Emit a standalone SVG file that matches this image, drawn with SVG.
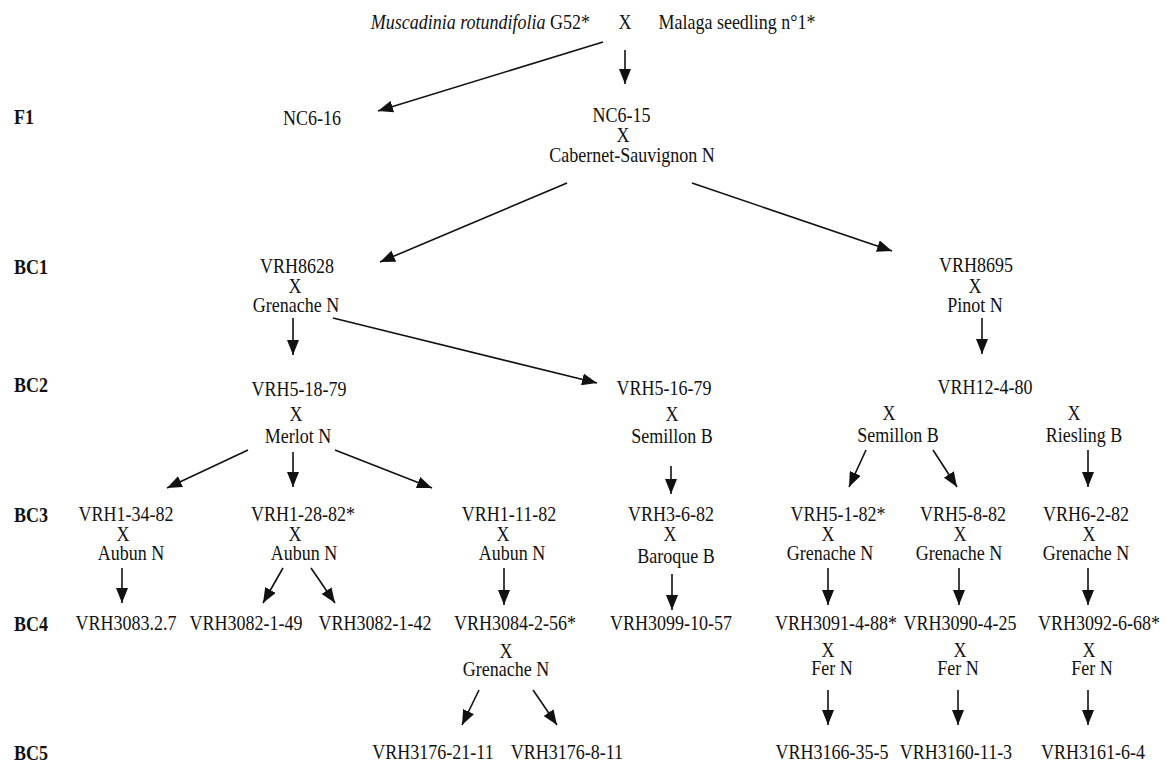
<svg xmlns="http://www.w3.org/2000/svg" width="1166" height="762" viewBox="0 0 1166 762">
<style>
  text { font-family: "Liberation Serif", "Times New Roman", serif; font-size: 20px; fill: #111; text-anchor: middle; transform: scaleX(0.9); transform-box: fill-box; transform-origin: center; }
  text.lbl { font-weight: bold; text-anchor: start; transform-origin: left center; }
  .it { font-style: italic; }
  .conn line { stroke: #111; stroke-width: 1.6; fill: none; marker-end: url(#ah); }
</style>
<defs>
  <marker id="ah" viewBox="0 0 15 12" refX="15" refY="6" markerWidth="15" markerHeight="12" markerUnits="userSpaceOnUse" orient="auto">
    <path d="M0,0 L15,6 L0,12 z" fill="#111"/>
  </marker>
</defs>
<rect width="1166" height="762" fill="#fff"/>

<g id="labels">
  <text class="lbl" x="14" y="124">F1</text>
  <text class="lbl" x="14" y="274">BC1</text>
  <text class="lbl" x="14" y="392">BC2</text>
  <text class="lbl" x="14" y="522">BC3</text>
  <text class="lbl" x="14" y="631">BC4</text>
  <text class="lbl" x="14" y="760">BC5</text>
</g>

<g id="parents">
  <text x="480.5" y="29"><tspan class="it">Muscadinia rotundifolia</tspan> G52*</text>
  <text x="625" y="29">X</text>
  <text x="737" y="29">Malaga seedling n°1*</text>
</g>

<g id="NC6-16"><text x="312" y="125">NC6-16</text></g>
<g id="NC6-15">
  <text x="621.5" y="122">NC6-15</text>
  <text x="623" y="142">X</text>
  <text x="632" y="162">Cabernet-Sauvignon N</text>
</g>

<g id="VRH8628">
  <text x="297" y="273">VRH8628</text>
  <text x="295" y="293">X</text>
  <text x="296" y="312">Grenache N</text>
</g>
<g id="VRH8695">
  <text x="976" y="272">VRH8695</text>
  <text x="975" y="293">X</text>
  <text x="975" y="312">Pinot N</text>
</g>

<g id="VRH5-18-79">
  <text x="299" y="396">VRH5-18-79</text>
  <text x="296" y="421">X</text>
  <text x="298" y="443">Merlot N</text>
</g>
<g id="VRH5-16-79">
  <text x="664" y="395">VRH5-16-79</text>
  <text x="672" y="421">X</text>
  <text x="672" y="443">Semillon B</text>
</g>
<g id="VRH12-4-80">
  <text x="985" y="394">VRH12-4-80</text>
  <text x="889" y="420">X</text>
  <text x="898" y="442">Semillon B</text>
  <text x="1074" y="420">X</text>
  <text x="1084" y="442">Riesling B</text>
</g>

<g id="VRH1-34-82">
  <text x="126" y="521">VRH1-34-82</text>
  <text x="123" y="541">X</text>
  <text x="131" y="560">Aubun N</text>
</g>
<g id="VRH1-28-82">
  <text x="303" y="521">VRH1-28-82*</text>
  <text x="295" y="541">X</text>
  <text x="304" y="560">Aubun N</text>
</g>
<g id="VRH1-11-82">
  <text x="509" y="521">VRH1-11-82</text>
  <text x="503" y="541">X</text>
  <text x="512" y="560">Aubun N</text>
</g>
<g id="VRH3-6-82">
  <text x="671" y="521">VRH3-6-82</text>
  <text x="670" y="541">X</text>
  <text x="676" y="563">Baroque B</text>
</g>
<g id="VRH5-1-82">
  <text x="838" y="521">VRH5-1-82*</text>
  <text x="828" y="541">X</text>
  <text x="830" y="560">Grenache N</text>
</g>
<g id="VRH5-8-82">
  <text x="963" y="521">VRH5-8-82</text>
  <text x="960" y="541">X</text>
  <text x="959" y="560">Grenache N</text>
</g>
<g id="VRH6-2-82">
  <text x="1086" y="521">VRH6-2-82</text>
  <text x="1089" y="541">X</text>
  <text x="1086" y="560">Grenache N</text>
</g>

<g id="VRH3083.2.7"><text x="126" y="630">VRH3083.2.7</text></g>
<g id="VRH3082-1-49"><text x="246" y="630">VRH3082-1-49</text></g>
<g id="VRH3082-1-42"><text x="375" y="630">VRH3082-1-42</text></g>
<g id="VRH3084-2-56">
  <text x="515" y="630">VRH3084-2-56*</text>
  <text x="506" y="658">X</text>
  <text x="506" y="676">Grenache N</text>
</g>
<g id="VRH3099-10-57"><text x="671" y="630">VRH3099-10-57</text></g>
<g id="VRH3091-4-88">
  <text x="836" y="630">VRH3091-4-88*</text>
  <text x="828" y="657">X</text>
  <text x="832" y="675">Fer N</text>
</g>
<g id="VRH3090-4-25">
  <text x="960" y="630">VRH3090-4-25</text>
  <text x="960" y="657">X</text>
  <text x="958" y="675">Fer N</text>
</g>
<g id="VRH3092-6-68">
  <text x="1099" y="630">VRH3092-6-68*</text>
  <text x="1089" y="657">X</text>
  <text x="1092" y="675">Fer N</text>
</g>

<g id="VRH3176-21-11"><text x="433" y="759">VRH3176-21-11</text></g>
<g id="VRH3176-8-11"><text x="567" y="759">VRH3176-8-11</text></g>
<g id="VRH3166-35-5"><text x="832" y="759">VRH3166-35-5</text></g>
<g id="VRH3160-11-3"><text x="956" y="759">VRH3160-11-3</text></g>
<g id="VRH3161-6-4"><text x="1093" y="759">VRH3161-6-4</text></g>

<g id="connectors" class="conn">
  <line x1="603" y1="42" x2="378" y2="111"/>
  <line x1="625" y1="50" x2="625" y2="84"/>
  <line x1="567" y1="183" x2="380" y2="262"/>
  <line x1="692" y1="183" x2="892" y2="251"/>
  <line x1="293" y1="318" x2="293" y2="355"/>
  <line x1="333" y1="318" x2="597" y2="383"/>
  <line x1="982" y1="318" x2="982" y2="354"/>
  <line x1="248" y1="450" x2="167" y2="488"/>
  <line x1="293" y1="452" x2="293" y2="487"/>
  <line x1="335" y1="450" x2="432" y2="488"/>
  <line x1="671" y1="466" x2="671" y2="494"/>
  <line x1="866" y1="450" x2="849" y2="487"/>
  <line x1="933" y1="450" x2="957" y2="487"/>
  <line x1="1088" y1="450" x2="1088" y2="487"/>
  <line x1="122" y1="568" x2="122" y2="603"/>
  <line x1="283" y1="568" x2="263" y2="603"/>
  <line x1="311" y1="568" x2="335" y2="603"/>
  <line x1="504" y1="568" x2="504" y2="605"/>
  <line x1="672" y1="574" x2="672" y2="610"/>
  <line x1="828" y1="568" x2="828" y2="605"/>
  <line x1="959" y1="568" x2="959" y2="605"/>
  <line x1="1088" y1="568" x2="1088" y2="605"/>
  <line x1="479" y1="690" x2="462" y2="725"/>
  <line x1="533" y1="690" x2="557" y2="725"/>
  <line x1="828" y1="690" x2="828" y2="725"/>
  <line x1="958" y1="690" x2="958" y2="725"/>
  <line x1="1088" y1="690" x2="1088" y2="725"/>
</g>
</svg>
